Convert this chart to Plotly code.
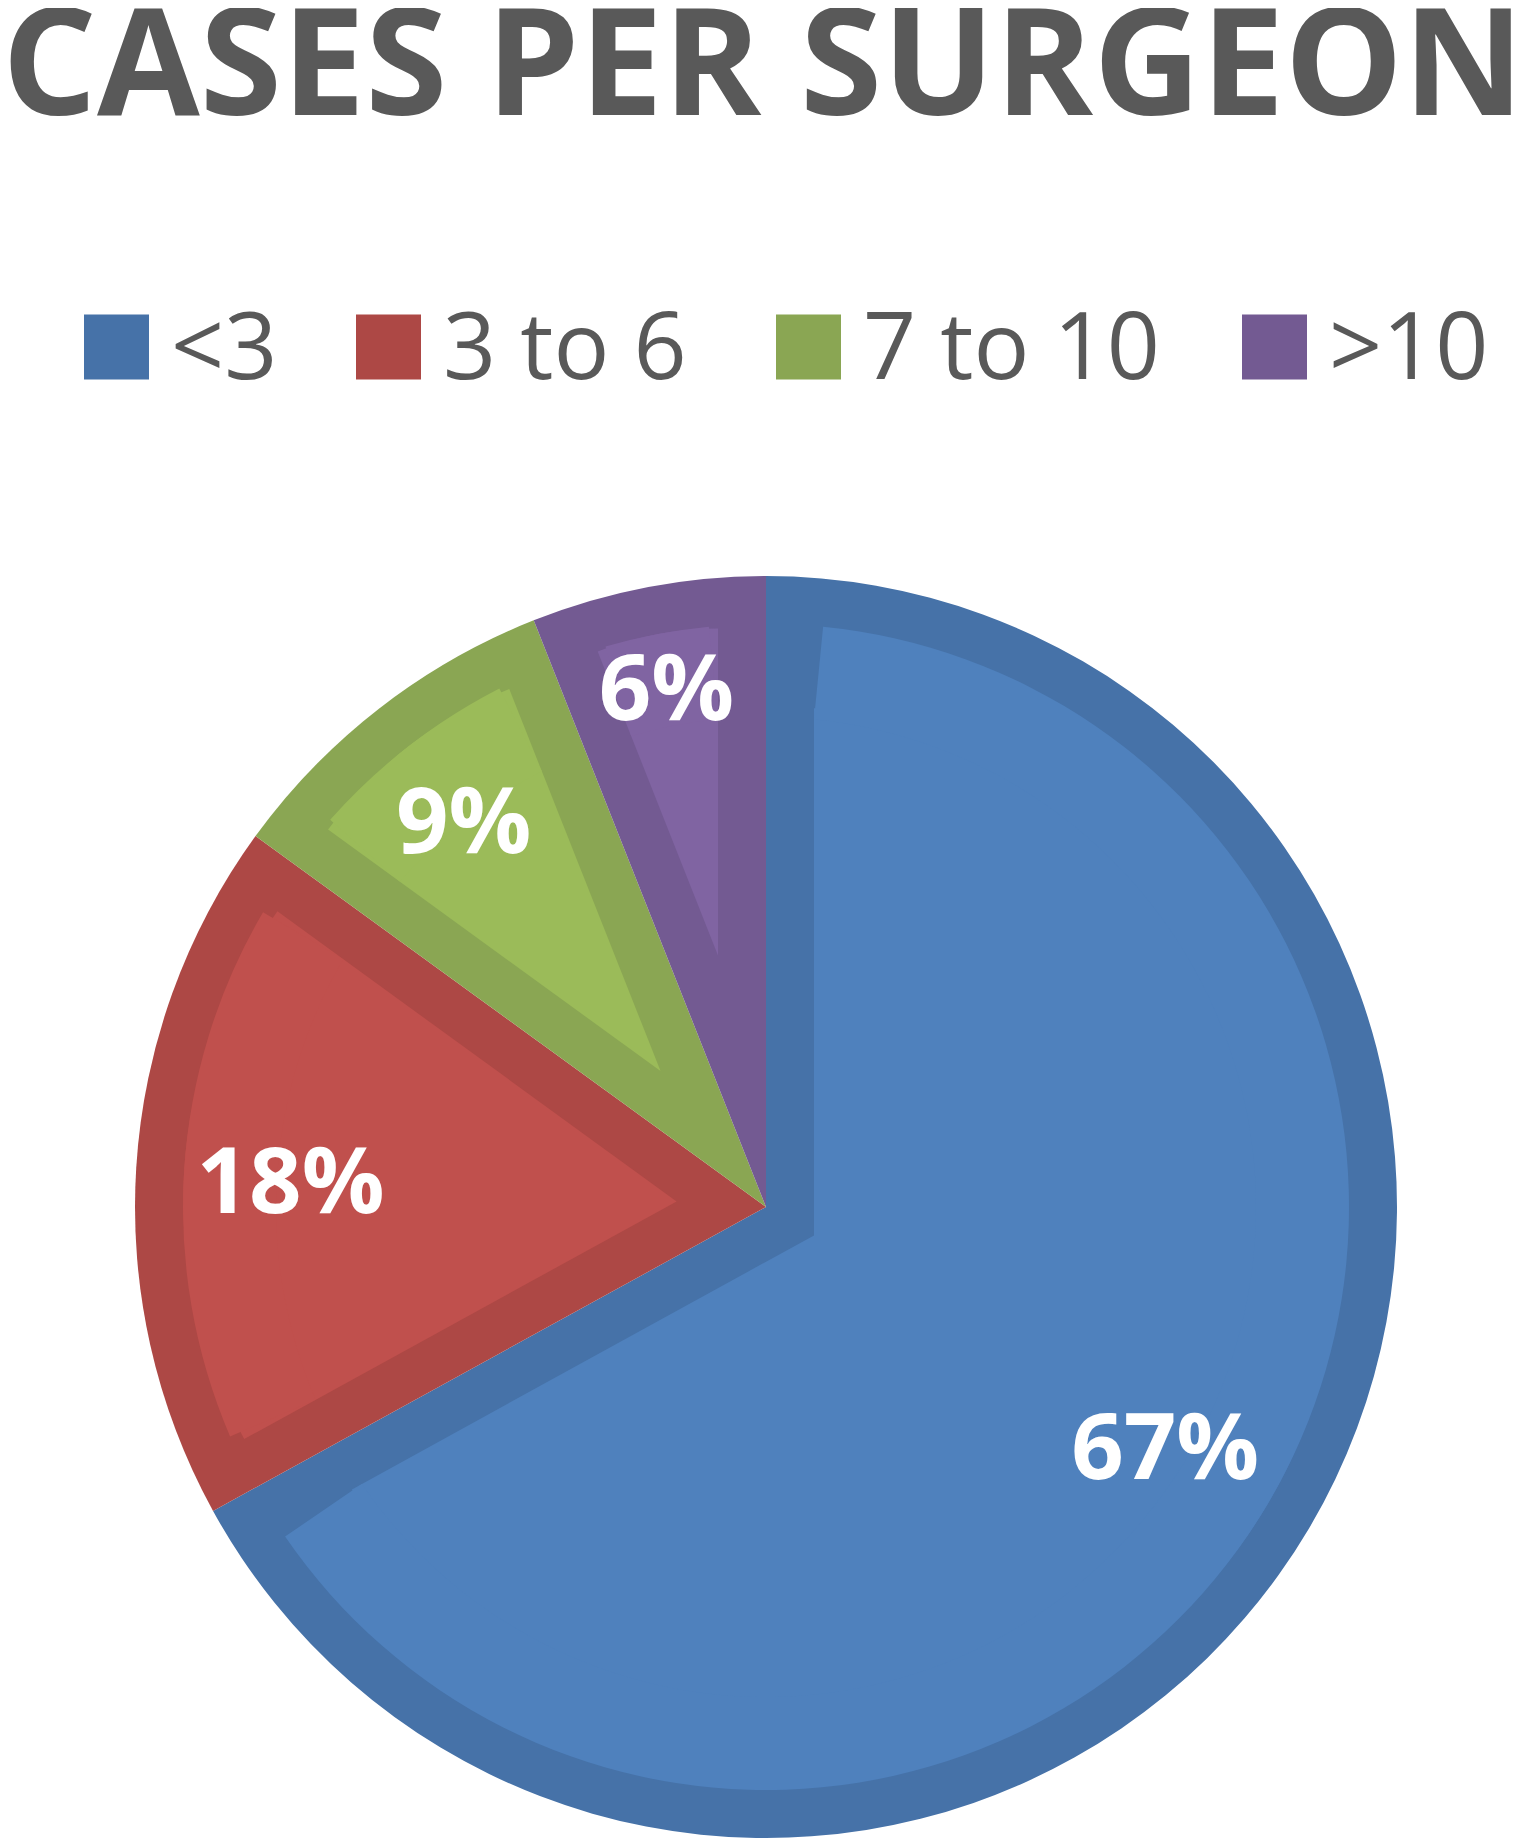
import math

import plotly.graph_objects as go

# ------------------------------------------------------------------
# Data
# ------------------------------------------------------------------

TITLE = "CASES PER SURGEON"
CATEGORIES = ["<3", "3 to 6", "7 to 10", ">10"]
SHARES = [67, 18, 9, 6]

# ------------------------------------------------------------------
# Styling
# ------------------------------------------------------------------

FILL_COLORS = ["#4f81bd", "#c0504d", "#9bbb59", "#8064a2"]
EDGE_COLORS = ["#4672a8", "#ad4845", "#8aa653", "#735a92"]
CLEAR = "rgba(0,0,0,0)"
TEXT_GREY = "#595959"
FONT = "Open Sans"

# the html page puts an 8px body margin round the plot, so the figure is
# made that much smaller and every page position is shifted back by it
PAGE_MARGIN = 8
WIDTH, HEIGHT = 1524 - PAGE_MARGIN, 1842 - PAGE_MARGIN

CX, CY = 766, 1207        # pie centre on the page
RADIUS = 631              # outer radius of the pie
BAND = 48                 # width of the darker inner edge
RING_IN = 490             # inner radius of the outer light ring
LABEL_HOLES = [0.47, 0.51, 0, 0]   # pushes the big labels further out

LEGEND_SQUARE_X = [84, 356, 776, 1242]
LEGEND_Y = 347
LEGEND_SQ = 65


def px(x: float) -> float:
    return (x - PAGE_MARGIN) / WIDTH


def py(y: float) -> float:
    return 1 - (y - PAGE_MARGIN) / HEIGHT


def pie_domain(radius: float) -> dict:
    """Square domain (paper coords) of given pixel radius around the centre."""
    return dict(x=[px(CX - radius), px(CX + radius)], y=[py(CY + radius), py(CY - radius)])


total = sum(SHARES)
inner_r = RADIUS - BAND
n = len(SHARES)
common = dict(sort=False, direction="clockwise", showlegend=False, hoverinfo="skip", textinfo="none")

fig = go.Figure()

# darker full pie underneath -> becomes the edge band
fig.add_trace(
    go.Pie(
        labels=CATEGORIES,
        values=SHARES,
        marker=dict(colors=EDGE_COLORS, line=dict(width=0)),
        domain=pie_domain(RADIUS),
        **common,
    )
)

# lighter inset wedges: each slice pulled along its bisector so that
# its straight edges sit BAND pixels inside the original edges
for k, share in enumerate(SHARES):
    shift = BAND / math.sin(math.pi * share / total)
    pull = shift / (inner_r - shift)
    fig.add_trace(
        go.Pie(
            labels=CATEGORIES,
            values=SHARES,
            pull=[pull if j == k else 0 for j in range(n)],
            marker=dict(
                colors=[FILL_COLORS[j] if j == k else CLEAR for j in range(n)],
                line=dict(width=0),
            ),
            domain=pie_domain(inner_r),
            **common,
        )
    )

# outer light ring so the arc keeps a constant band width
gap_deg = math.degrees(math.asin(BAND / RING_IN))
gap = gap_deg / 360 * total
ring_values, ring_colors = [], []
for share, col in zip(SHARES, FILL_COLORS):
    ring_values += [share - 2 * gap, 2 * gap]
    ring_colors += [col, CLEAR]
fig.add_trace(
    go.Pie(
        values=ring_values,
        rotation=gap_deg,
        hole=RING_IN / inner_r,
        marker=dict(colors=ring_colors, line=dict(width=0)),
        domain=pie_domain(inner_r),
        **common,
    )
)

# transparent pies on top carrying the percentage labels
for k, hole in enumerate(LABEL_HOLES):
    fig.add_trace(
        go.Pie(
            labels=CATEGORIES,
            values=SHARES,
            sort=False,
            direction="clockwise",
            hole=hole,
            showlegend=False,
            marker=dict(colors=[CLEAR] * n, line=dict(width=0)),
            texttemplate=["%{percent}" if j == k else "" for j in range(n)],
            textposition="inside",
            insidetextorientation="horizontal",
            textfont=dict(family=FONT, size=92, color="white", weight="bold"),
            hovertemplate="<b>%{label}</b><br>%{percent}<extra></extra>",
            domain=pie_domain(RADIUS),
        )
    )

# ------------------------------------------------------------------
# Title and legend
# ------------------------------------------------------------------

annotations = [
    dict(
        text=TITLE,
        x=px(763),
        y=py(58),
        xref="paper",
        yref="paper",
        xanchor="center",
        yanchor="middle",
        showarrow=False,
        font=dict(family=FONT, size=149, color=TEXT_GREY, weight="bold"),
    )
]
shapes = []
for label, col, sx in zip(CATEGORIES, EDGE_COLORS, LEGEND_SQUARE_X):
    shapes.append(
        dict(
            type="rect",
            xref="paper",
            yref="paper",
            x0=px(sx),
            x1=px(sx + LEGEND_SQ),
            y0=py(LEGEND_Y + LEGEND_SQ / 2),
            y1=py(LEGEND_Y - LEGEND_SQ / 2),
            fillcolor=col,
            line=dict(width=0),
        )
    )
    annotations.append(
        dict(
            text=label,
            x=px(sx + LEGEND_SQ + 20),
            y=py(LEGEND_Y - 4),
            xref="paper",
            yref="paper",
            xanchor="left",
            yanchor="middle",
            showarrow=False,
            font=dict(family=FONT, size=93, color=TEXT_GREY),
        )
    )

fig.update_layout(
    width=WIDTH,
    height=HEIGHT,
    margin=dict(l=0, r=0, t=0, b=0),
    paper_bgcolor="white",
    plot_bgcolor="white",
    showlegend=False,
    annotations=annotations,
    shapes=shapes,
)

fig.write_html("out.html")
